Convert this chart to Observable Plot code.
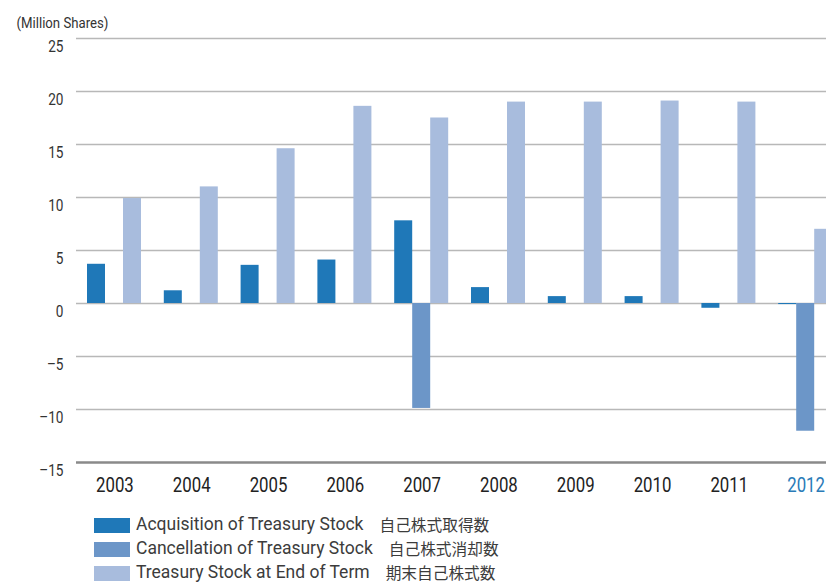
<!DOCTYPE html>
<html>
<head>
<meta charset="utf-8">
<script src="https://cdn.jsdelivr.net/npm/d3@7"></script>
<script src="https://cdn.jsdelivr.net/npm/@observablehq/plot@0.6"></script>
<style>
  body { margin: 0; background: #fff; }
  #wrap { position: relative; width: 826px; height: 584px; overflow: hidden; }
  .legend { position: absolute; left: 94px; top: 513px; font-family: Roboto, "Liberation Sans", sans-serif; font-size: 17.5px; color: #3c3c3c; line-height: 1; }
  .row { display: flex; align-items: center; height: 24px; white-space: nowrap; }
  .sw { width: 36px; height: 15px; margin-right: 6px; flex: none; }
  .jp { font-family: "Noto Sans CJK JP", sans-serif; font-size: 15.7px; margin-left: 16px; line-height: 1; }
</style>
</head>
<body>
<div id="wrap"></div>
<script>
const years = ["2003","2004","2005","2006","2007","2008","2009","2010","2011","2012"];
const acquisition = [3.7, 1.2, 3.6, 4.1, 7.8, 1.5, 0.65, 0.65, -0.45, -0.1];
const cancellation = [0, 0, 0, 0, -9.9, 0, 0, 0, 0, -12.05];
const treasury = [9.9, 11.0, 14.6, 18.6, 17.5, 19.0, 19.0, 19.1, 19.0, 7.0];
const yTicks = [-15, -10, -5, 0, 5, 10, 15, 20, 25];
const seriesNames = ["Acquisition of Treasury Stock", "Cancellation of Treasury Stock", "Treasury Stock at End of Term"];
const seriesJp = ["自己株式取得数", "自己株式消却数", "期末自己株式数"];
const colors = ["#1f78b8", "#6c96c8", "#a8bcdd"];

const acqData = years.map((y, i) => ({year: y, value: acquisition[i]}));
const canData = years.map((y, i) => ({year: y, value: cancellation[i]})).filter(d => d.value !== 0);
const treData = years.map((y, i) => ({year: y, value: treasury[i]}));

const font = 'Roboto, "Liberation Sans", sans-serif';

const chart = Plot.plot({
  width: 826,
  height: 505,
  marginLeft: 76,
  marginRight: 0,
  marginTop: 38,
  marginBottom: 43,
  style: {fontFamily: font, background: "#fff", overflow: "visible"},
  x: {type: "band", domain: years, range: [76, 844], padding: 0, round: false},
  y: {domain: [-15, 25]},
  marks: [
    Plot.ruleY(yTicks.filter(d => d !== -15), {stroke: "#b8b8b8", strokeWidth: 1.5}),
    Plot.barY(acqData, {x: "year", y: "value", fill: colors[0], insetLeft: 11, insetRight: 47.8}),
    Plot.barY(canData, {x: "year", y: "value", fill: colors[1], insetLeft: 29, insetRight: 29.8}),
    Plot.barY(treData, {x: "year", y: "value", fill: colors[2], insetLeft: 47, insetRight: 11.8}),
    Plot.ruleY([-15], {stroke: "#8a8a8a", strokeWidth: 2.5}),
    Plot.axisY({ticks: yTicks, tickSize: 0, tickPadding: 13, dy: 8, fontSize: 17, fill: "#333", label: null,
      tickFormat: d => d < 0 ? "\u2013" + Math.abs(d) : String(d)}),
    Plot.axisX({tickSize: 0, tickPadding: 15, fontSize: 21, label: null,
      fill: d => d === "2012" ? "#2a7bb8" : "#222"}),
    Plot.text(["(Million Shares)"], {frameAnchor: "top-left", dx: -60, dy: -21, fontSize: 15, fill: "#333", textAnchor: "start"})
  ]
});

// condense the axis text horizontally (narrow typeface look)
d3.select(chart).selectAll('g[aria-label="x-axis tick label"] text, g[aria-label="y-axis tick label"] text')
  .each(function() {
    const t = this.getAttribute("transform") || "";
    this.setAttribute("transform", t + " scale(0.8,1)");
  });
d3.select(chart).selectAll('g[aria-label="text"] text')
  .each(function() {
    const t = this.getAttribute("transform") || "";
    this.setAttribute("transform", t + " scale(0.88,1)");
  });

const wrap = document.getElementById("wrap");
wrap.appendChild(chart);
const legend = document.createElement("div");
legend.className = "legend";
seriesNames.forEach((name, i) => {
  const row = document.createElement("div");
  row.className = "row";
  const sw = document.createElement("div");
  sw.className = "sw";
  sw.style.background = colors[i];
  const t = document.createElement("span");
  t.textContent = name;
  const jp = document.createElement("span");
  jp.className = "jp";
  jp.textContent = seriesJp[i];
  row.append(sw, t, jp);
  legend.appendChild(row);
});
wrap.appendChild(legend);
</script>
</body>
</html>
